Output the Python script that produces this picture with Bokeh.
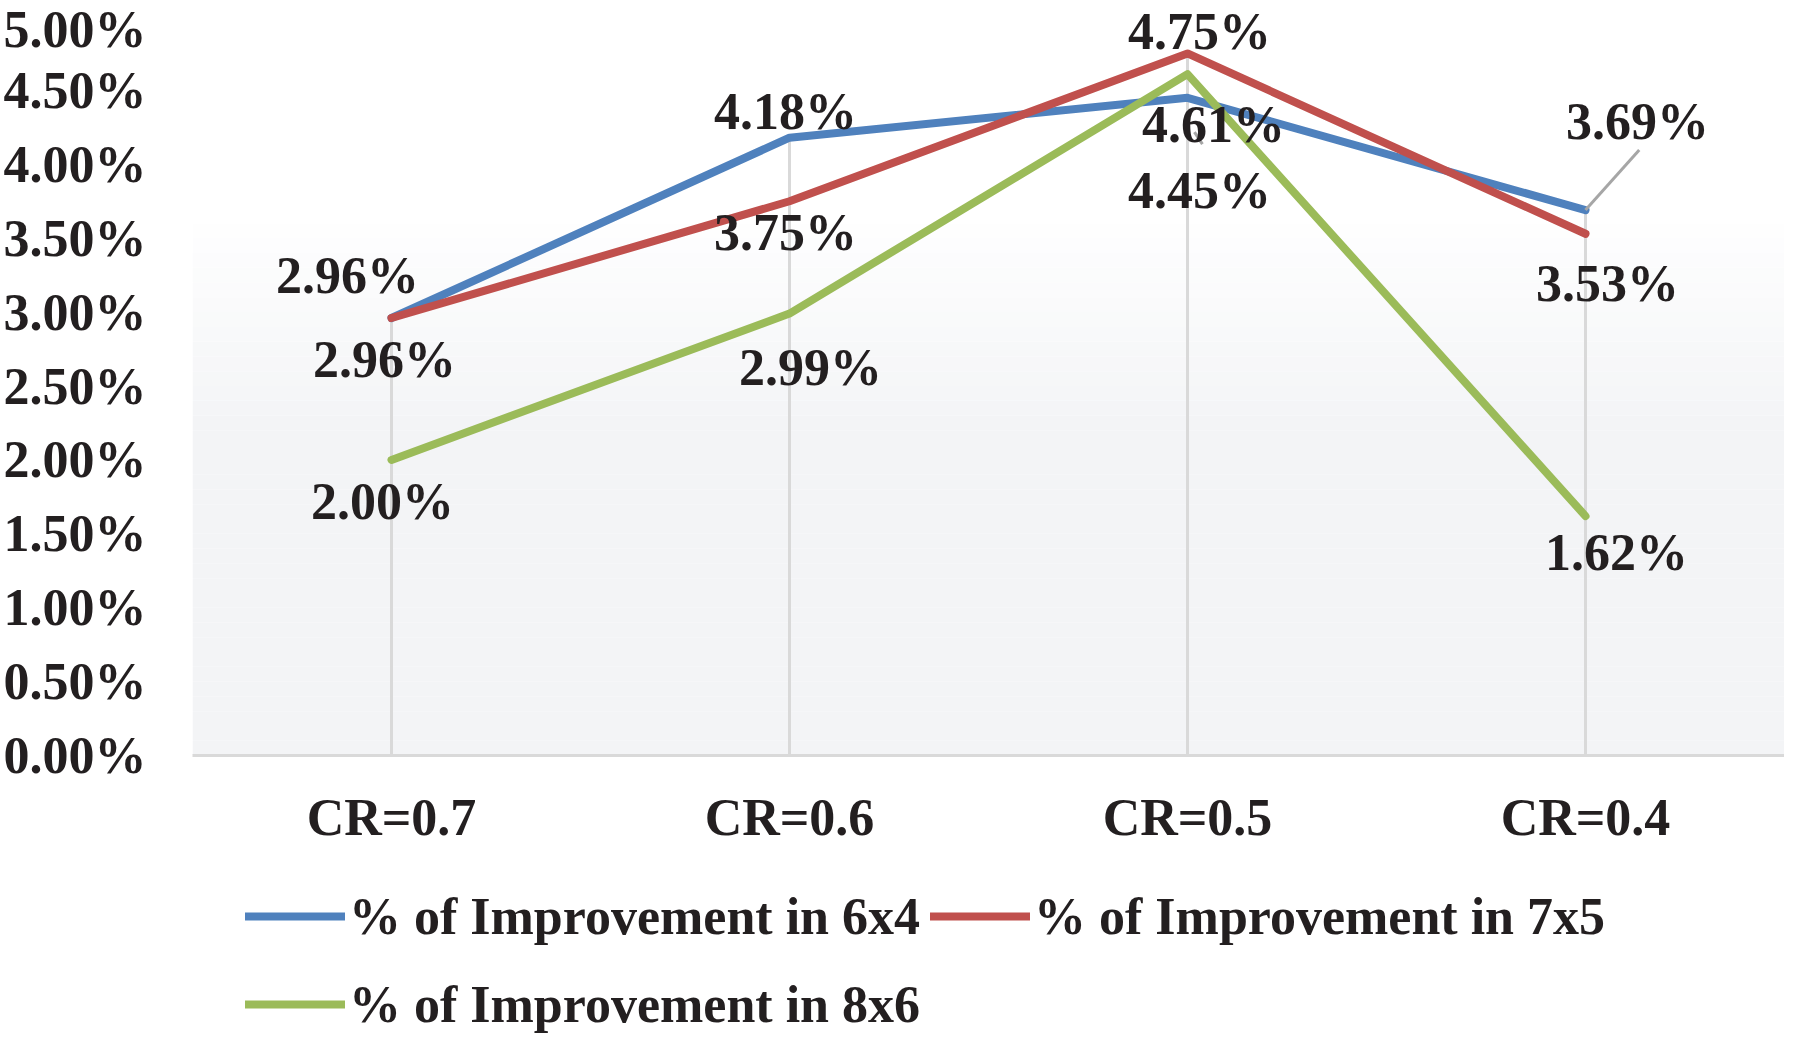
import numpy as np
from bokeh.plotting import figure
from bokeh.layouts import column
from bokeh.models import (ColumnDataSource, FixedTicker, PrintfTickFormatter, Legend,
                          LegendItem, BoxAnnotation, FactorRange, Range1d)
from bokeh.core.properties import value
from bokeh.embed import file_html
from bokeh.resources import INLINE

# ---------------- data ----------------
categories = ["CR=0.7", "CR=0.6", "CR=0.5", "CR=0.4"]
imp_6x4 = [2.96, 4.18, 4.45, 3.69]
imp_7x5 = [2.96, 3.75, 4.75, 3.53]
imp_8x6 = [2.00, 2.99, 4.61, 1.62]
series_names = ["% of Improvement in 6x4", "% of Improvement in 7x5", "% of Improvement in 8x6"]
y_ticks = [0.0, 0.5, 1.0, 1.5, 2.0, 2.5, 3.0, 3.5, 4.0, 4.5, 5.0]

# ---------------- styles ----------------
colors = ["#4f81bd", "#c0504d", "#9bbb59"]
FONT = "Liberation Serif"
TXT = "#231f20"
FS = "52px"
LW = 8
# data-label offsets in screen px (dx right, dy down)
label_dx = [[-44, -4, 12, 52], [-7, -4, 12, 22], [-9, 21, 26, 31]]
label_dy = [[-43, -26, 93, -89], [41, 31, -22, 50], [42, 54, 50, 36]]

W = 1784
H_MAIN = 867
H_LEG = 1033 - H_MAIN
TOP_GAP, LEFT = 16, 184
FRAME_BOTTOM = 755
frame_w = W - LEFT
px_per_cat = frame_w / len(categories)
px_per_unit = (FRAME_BOTTOM - TOP_GAP) / 5.0
y_end = 5.0 + TOP_GAP / px_per_unit

p = figure(width=W, height=H_MAIN, x_range=FactorRange(*categories), y_range=Range1d(0, y_end),
           output_backend="svg", toolbar_location=None,
           min_border_left=LEFT, min_border_right=0, min_border_top=0,
           min_border_bottom=H_MAIN - FRAME_BOTTOM)
p.background_fill_color = "white"
p.border_fill_color = "white"
p.outline_line_color = None
p.xgrid.grid_line_color = None
p.ygrid.grid_line_color = None

# background gradient bands (decoration)
c_bot = np.array([0xf3, 0xf4, 0xf6], dtype=float)
c_top = np.array([0xff, 0xff, 0xff], dtype=float)
edges = np.linspace(0, 5, 51)
for b, t in zip(edges[:-1], edges[1:]):
    m = 0.5 * (b + t)
    f = np.clip((m - 2.2) / (3.7 - 2.2), 0, 1)
    c = c_bot + (c_top - c_bot) * f
    col = "#%02x%02x%02x" % tuple(int(round(v)) for v in c)
    p.add_layout(BoxAnnotation(bottom=b, top=t, fill_color=col, fill_alpha=1.0,
                               line_color=None, level="underlay"))

# drop lines
all_series = [imp_6x4, imp_7x5, imp_8x6]
maxvals = np.max(np.array(all_series), axis=0)
p.segment(x0=categories, y0=[0] * len(categories), x1=categories, y1=list(maxvals),
          line_color="#d9d9d9", line_width=3)

# small leader under the 4.61% label
j = 2
p.segment(x0=[j + 0.5 + 7 / px_per_cat], y0=[imp_8x6[j] - 58 / px_per_unit],
          x1=[j + 0.5 + 15 / px_per_cat], y1=[imp_8x6[j] - 70 / px_per_unit],
          line_color="#a6a6a6", line_width=3)

# lines
for vals, col in zip(all_series, colors):
    p.line(x=categories, y=vals, line_color=col, line_width=LW,
           line_cap="round", line_join="round")

# leader line for 3.69%
i = 3
xs0 = i + 0.5
p.segment(x0=[xs0], y0=[imp_6x4[i]], x1=[xs0 + 54 / px_per_cat],
          y1=[imp_6x4[i] + 60 / px_per_unit], line_color="#a6a6a6", line_width=3)

# data labels
for vals, dx, dy in zip(all_series, label_dx, label_dy):
    src = ColumnDataSource(dict(x=categories, y=vals,
                                t=["%.2f%%" % v for v in vals], dx=dx, dy=dy))
    p.text(x="x", y="y", text="t", x_offset="dx", y_offset="dy", source=src,
           text_font=value(FONT), text_font_style="bold", text_font_size=FS,
           text_color=TXT, text_align="center", text_baseline="middle")

# axes
p.yaxis.ticker = FixedTicker(ticks=y_ticks)
p.yaxis.formatter = PrintfTickFormatter(format="%.2f%%")
p.yaxis.axis_line_color = None
p.yaxis.major_tick_line_color = None
p.yaxis.minor_tick_line_color = None
p.yaxis.major_label_standoff = 40
for ax in (p.xaxis, p.yaxis):
    ax.major_label_text_font = FONT
    ax.major_label_text_font_style = "bold"
    ax.major_label_text_font_size = FS
    ax.major_label_text_color = TXT
p.xaxis.axis_line_color = "#d9d9d9"
p.xaxis.axis_line_width = 3
p.xaxis.major_tick_line_color = None
p.xaxis.minor_tick_line_color = None
p.xaxis.major_tick_out = 0
p.xaxis.major_tick_in = 0
p.xaxis.major_label_standoff = 33

# ---------------- legend strip ----------------
# same series drawn outside the visible y window; only their legend samples show
q = figure(width=W, height=H_LEG, output_backend="svg", toolbar_location=None,
           x_range=FactorRange(*categories), y_range=Range1d(-2, -1),
           x_axis_type=None, y_axis_type=None, min_border=0)
q.outline_line_color = None
q.xgrid.grid_line_color = None
q.ygrid.grid_line_color = None
q.background_fill_color = "white"
q.border_fill_color = "white"
leg_renderers = [q.line(x=categories, y=vals, line_color=c, line_width=LW, line_cap="round")
                 for vals, c in zip(all_series, colors)]
legend = Legend(items=[LegendItem(label=n, renderers=[r]) for n, r in zip(series_names, leg_renderers)],
                orientation="horizontal", ncols=2, location=(53, -10))
legend.label_text_font = FONT
legend.label_text_font_style = "bold"
legend.label_text_font_size = FS
legend.label_text_color = TXT
legend.glyph_width = 100
legend.glyph_height = 20
legend.label_height = 78
legend.label_standoff = 4
legend.spacing = 10
legend.padding = 0
legend.margin = 0
legend.border_line_color = None
legend.background_fill_alpha = 0
q.add_layout(legend, "center")

layout = column(p, q, spacing=0)
open("out.html", "w").write(file_html(layout, INLINE))
